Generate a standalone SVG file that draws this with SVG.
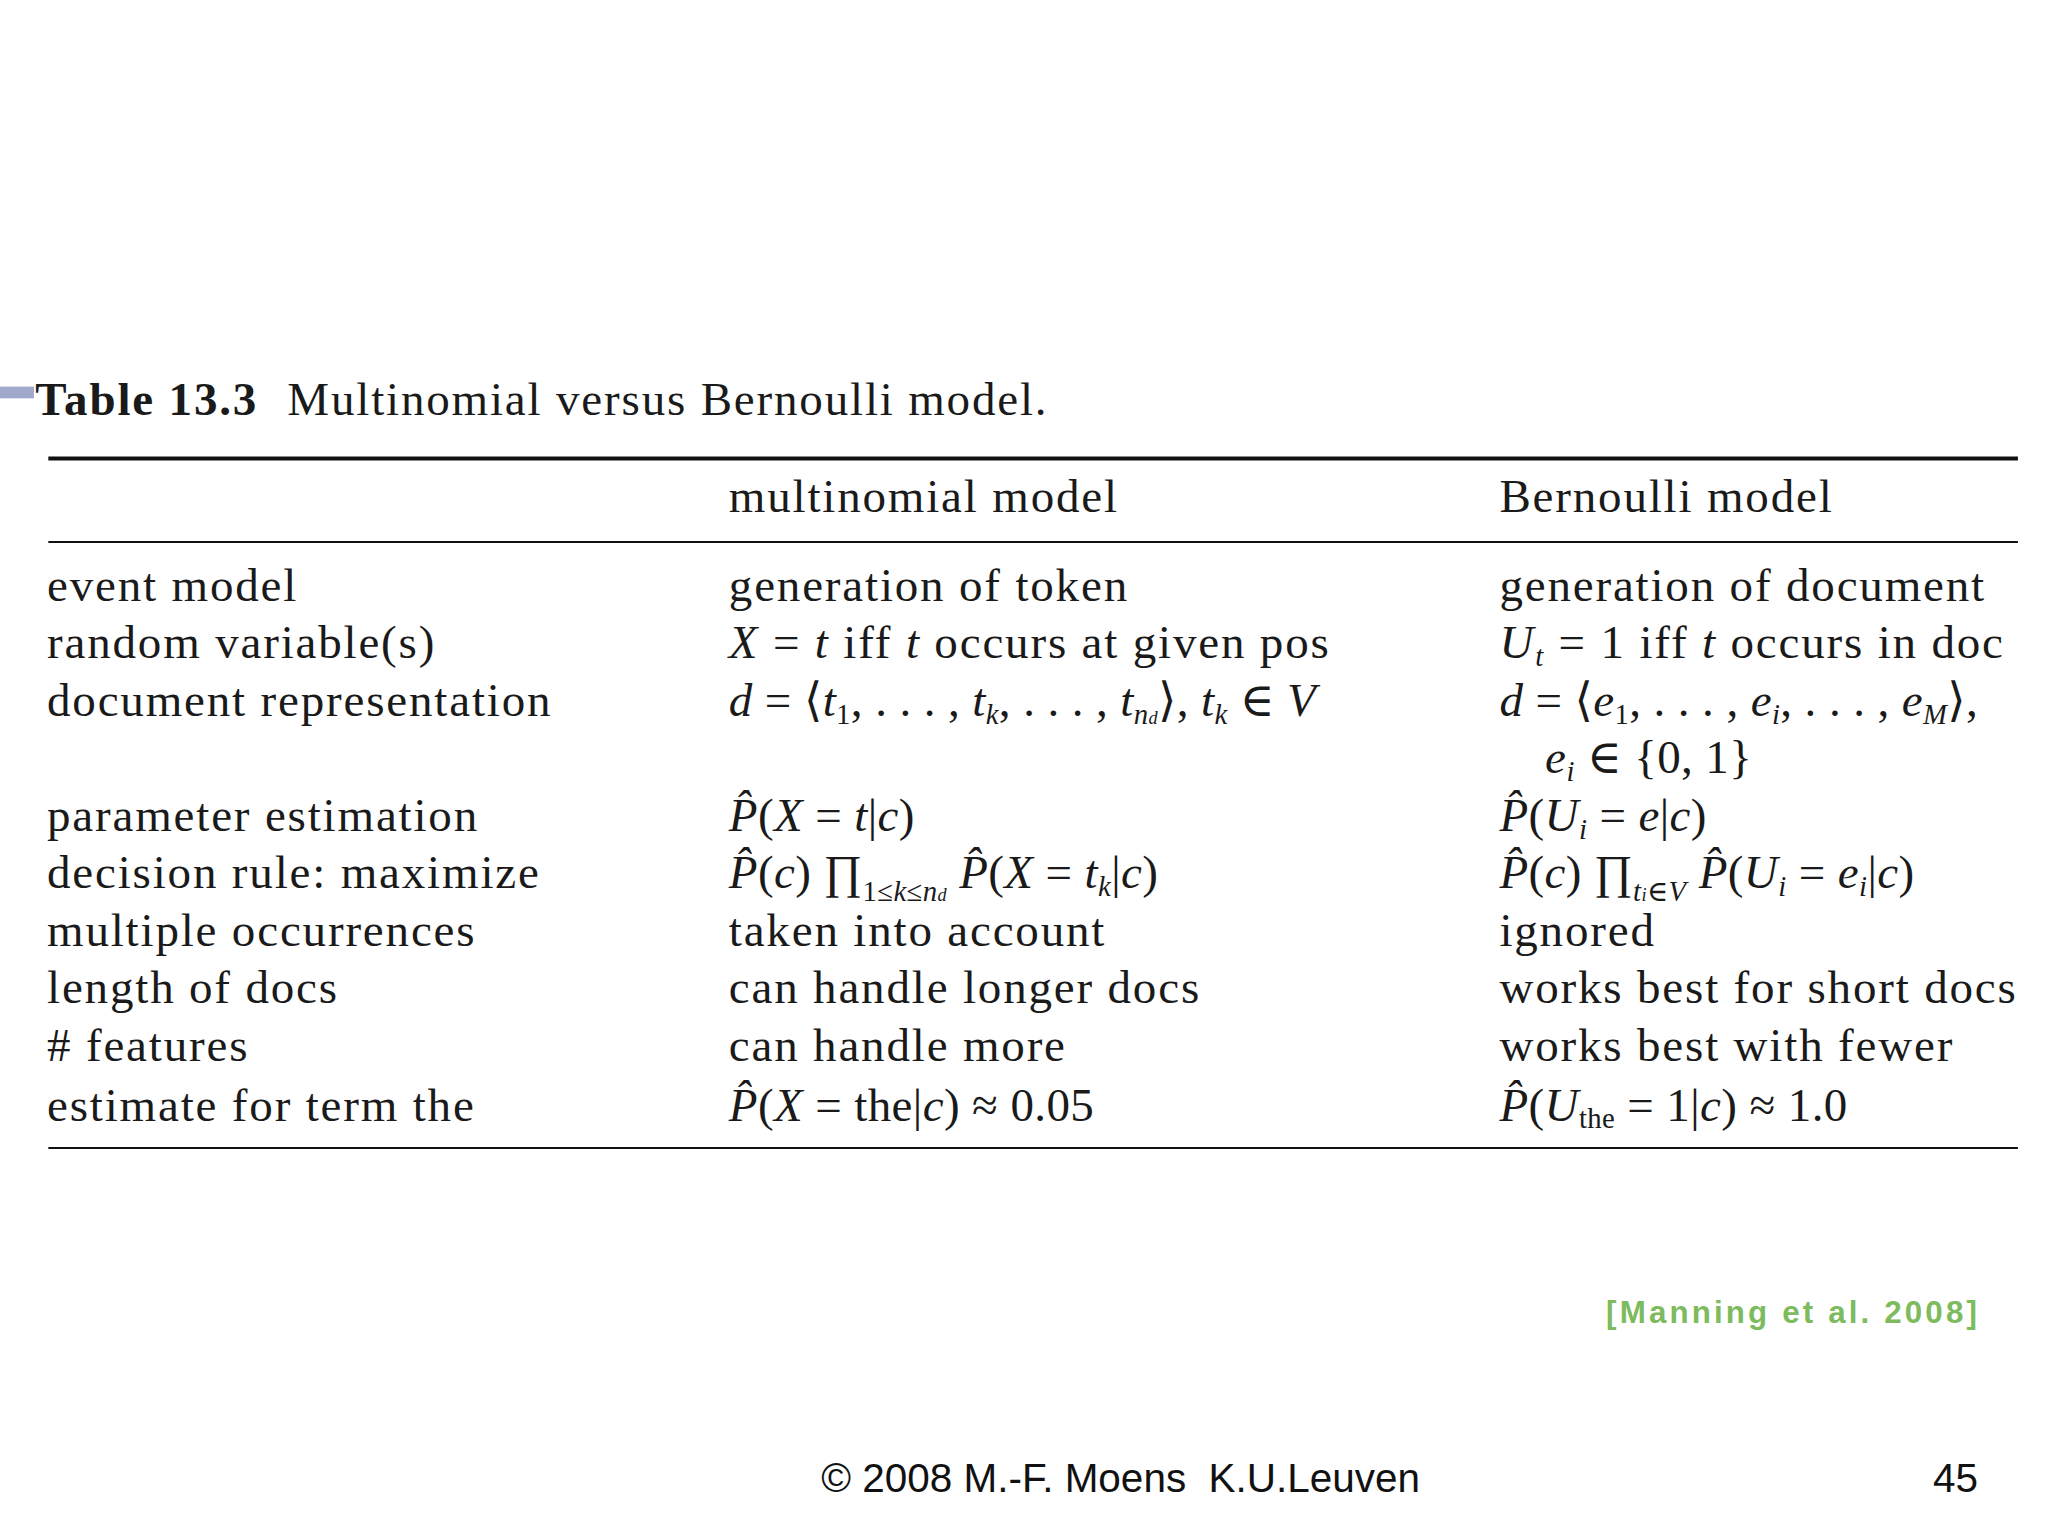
<svg xmlns="http://www.w3.org/2000/svg" width="2048" height="1536" viewBox="0 0 2048 1536">
<style>
.t{font-family:"Liberation Serif","DejaVu Serif",serif;font-size:36px;fill:#1a1a1a;letter-spacing:1.4px}
.m{letter-spacing:0.3px}
.i{font-style:italic}
.s{font-size:22px}
.b{font-weight:bold}
.f{font-family:"Liberation Sans",Arial,sans-serif;font-size:31px;fill:#111}
</style>
<rect width="2048" height="1536" fill="#fff"/>
<g transform="scale(1.3061)">
<rect x="0" y="296" width="26" height="9" fill="#a0a8cc"/>
<text class="t" x="27" y="318"><tspan class="b">Table 13.3</tspan><tspan x="220">Multinomial versus Bernoulli model.</tspan></text>
<line x1="37" y1="351" x2="1545" y2="351" stroke="#111" stroke-width="3"/>
<line x1="37" y1="415" x2="1545" y2="415" stroke="#111" stroke-width="1.5"/>
<line x1="37" y1="879" x2="1545" y2="879" stroke="#111" stroke-width="1.5"/>
<g id="header" class="t">
<text x="558" y="392">multinomial model</text>
<text x="1148" y="392">Bernoulli model</text>
</g>
<g id="col1" class="t">
<text x="36" y="460">event model</text>
<text x="36" y="504">random variable(s)</text>
<text x="36" y="548">document representation</text>
<text x="36" y="636">parameter estimation</text>
<text x="36" y="680">decision rule: maximize</text>
<text x="36" y="724">multiple occurrences</text>
<text x="36" y="768">length of docs</text>
<text x="36" y="812"># features</text>
<text x="36" y="858">estimate for term the</text>
</g>
<g id="col2" class="t">
<text x="558" y="460">generation of token</text>
<text x="558" y="504"><tspan class="i">X</tspan> = <tspan class="i">t</tspan> iff <tspan class="i">t</tspan> occurs at given pos</text>
<text class="m" x="558" y="548"><tspan class="i">d</tspan> = ⟨<tspan class="i">t</tspan><tspan class="s" dy="6">1</tspan><tspan dy="-6">, . . . , </tspan><tspan class="i">t</tspan><tspan class="s i" dy="6">k</tspan><tspan dy="-6">, . . . , </tspan><tspan class="i">t</tspan><tspan class="s i" dy="6">n<tspan font-size="14">d</tspan></tspan><tspan dy="-6">⟩, </tspan><tspan class="i">t</tspan><tspan class="s i" dy="6">k</tspan><tspan dy="-6"> ∈ </tspan><tspan class="i">V</tspan></text>
<text class="m" x="558" y="636"><tspan class="i">P̂</tspan>(<tspan class="i">X</tspan> = <tspan class="i">t</tspan>|<tspan class="i">c</tspan>)</text>
<text class="m" x="558" y="680"><tspan class="i">P̂</tspan>(<tspan class="i">c</tspan>) ∏<tspan class="s" dy="10">1≤<tspan class="i">k</tspan>≤<tspan class="i">n<tspan font-size="14">d</tspan></tspan></tspan><tspan dy="-10"> </tspan><tspan class="i">P̂</tspan>(<tspan class="i">X</tspan> = <tspan class="i">t</tspan><tspan class="s i" dy="6">k</tspan><tspan dy="-6">|</tspan><tspan class="i">c</tspan>)</text>
<text x="558" y="724">taken into account</text>
<text x="558" y="768">can handle longer docs</text>
<text x="558" y="812">can handle more</text>
<text class="m" x="558" y="858"><tspan class="i">P̂</tspan>(<tspan class="i">X</tspan> = the|<tspan class="i">c</tspan>) ≈ 0.05</text>
</g>
<g id="col3" class="t">
<text x="1148" y="460">generation of document</text>
<text x="1148" y="504"><tspan class="i">U</tspan><tspan class="s i" dy="6">t</tspan><tspan dy="-6"> = 1 iff </tspan><tspan class="i">t</tspan> occurs in doc</text>
<text class="m" x="1148" y="548"><tspan class="i">d</tspan> = ⟨<tspan class="i">e</tspan><tspan class="s" dy="6">1</tspan><tspan dy="-6">, . . . , </tspan><tspan class="i">e</tspan><tspan class="s i" dy="6">i</tspan><tspan dy="-6">, . . . , </tspan><tspan class="i">e</tspan><tspan class="s i" dy="6">M</tspan><tspan dy="-6">⟩,</tspan></text>
<text class="m" x="1183" y="592"><tspan class="i">e</tspan><tspan class="s i" dy="6">i</tspan><tspan dy="-6"> ∈ {0, 1}</tspan></text>
<text class="m" x="1148" y="636"><tspan class="i">P̂</tspan>(<tspan class="i">U</tspan><tspan class="s i" dy="6">i</tspan><tspan dy="-6"> = </tspan><tspan class="i">e</tspan>|<tspan class="i">c</tspan>)</text>
<text class="m" x="1148" y="680"><tspan class="i">P̂</tspan>(<tspan class="i">c</tspan>) ∏<tspan class="s" dy="10"><tspan class="i">t<tspan font-size="14">i</tspan></tspan>∈<tspan class="i">V</tspan></tspan><tspan dy="-10"> </tspan><tspan class="i">P̂</tspan>(<tspan class="i">U</tspan><tspan class="s i" dy="6">i</tspan><tspan dy="-6"> = </tspan><tspan class="i">e</tspan><tspan class="s i" dy="6">i</tspan><tspan dy="-6">|</tspan><tspan class="i">c</tspan>)</text>
<text x="1148" y="724">ignored</text>
<text x="1148" y="768">works best for short docs</text>
<text x="1148" y="812">works best with fewer</text>
<text class="m" x="1148" y="858"><tspan class="i">P̂</tspan>(<tspan class="i">U</tspan><tspan class="s" dy="6">the</tspan><tspan dy="-6"> = 1|</tspan><tspan class="i">c</tspan>) ≈ 1.0</text>
</g>
<text x="1516" y="1013" text-anchor="end" font-family="Liberation Sans,Arial,sans-serif" font-size="24" font-weight="bold" fill="#7dbb5e" letter-spacing="2.4">[Manning et al. 2008]</text>
<text class="f" x="858" y="1142" text-anchor="middle" xml:space="preserve">© 2008 M.-F. Moens  K.U.Leuven</text>
<text class="f" x="1480" y="1142">45</text>
</g>
</svg>
